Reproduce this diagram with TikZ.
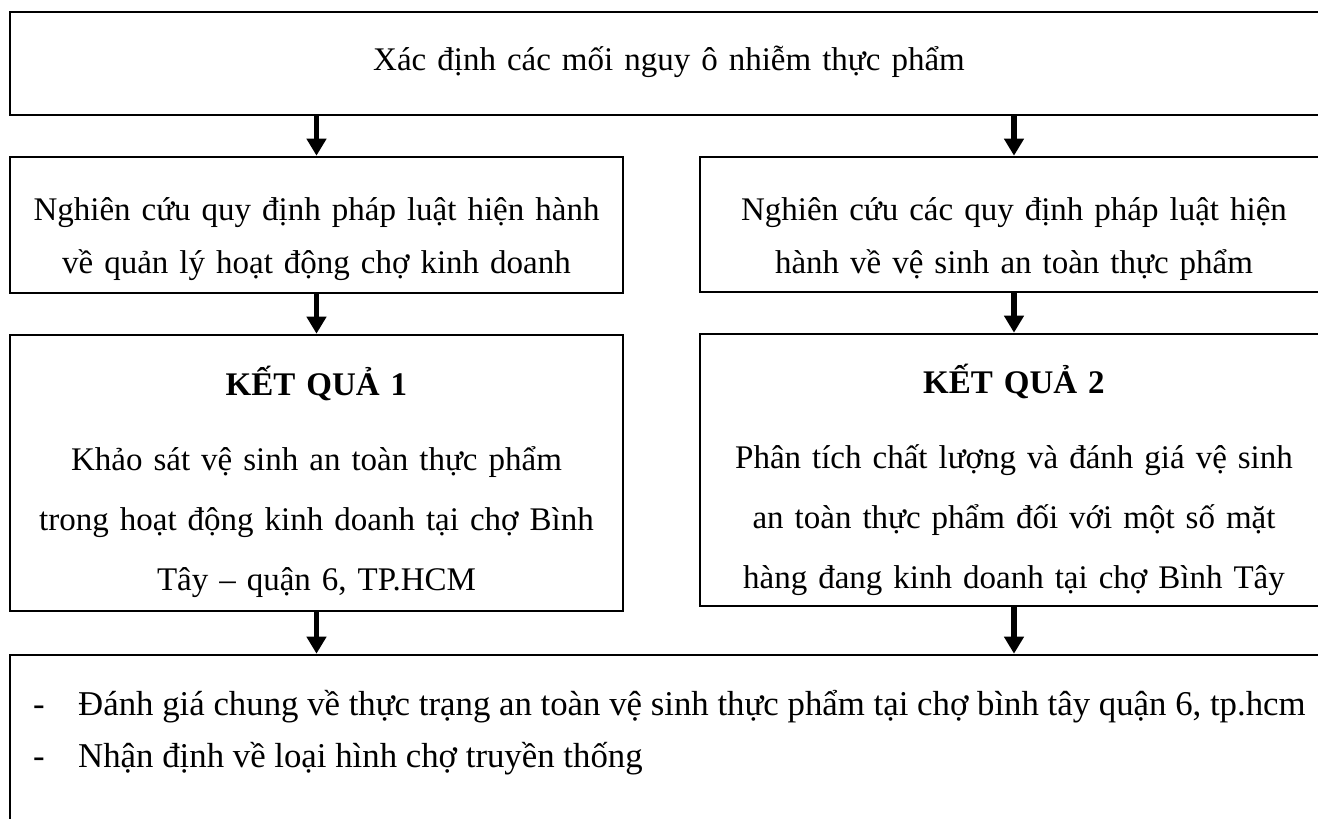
\documentclass[tikz,border=0pt]{standalone}
\usepackage{fontspec}
\setmainfont{Liberation Serif}
\usetikzlibrary{arrows.meta}
\begin{document}
\begin{tikzpicture}[x=1pt,y=-1pt,
  box/.style={draw, line width=2.6pt, inner sep=0pt},
  txt/.style={inner sep=0pt, anchor=base, align=center, text width=#1,
    font=\fontsize{33}{53}\selectfont},
  txt/.default=600pt,
  item/.style={inner sep=0pt, anchor=base west, font=\fontsize{34.8}{53}\selectfont},
  arr/.style={line width=5.5pt, -{Triangle[width=19pt,length=17pt]}}]
\useasboundingbox (0,0) rectangle (1318,819);
\clip (0,0) rectangle (1318,819);
% boxes
\node[box, minimum width=1318pt, minimum height=103pt] (top) at (669,63.5) {};
\node[box, minimum width=613pt, minimum height=136pt] (l2) at (316.5,225) {};
\node[box, minimum width=628pt, minimum height=135pt] (r2) at (1014,224.5) {};
\node[box, minimum width=613pt, minimum height=276pt] (l3) at (316.5,473) {};
\node[box, minimum width=628pt, minimum height=272pt] (r3) at (1014,470) {};
\node[box, minimum width=1318pt, minimum height=180pt] (bot) at (669,745) {};
% texts
\node[txt=1000pt] (ttop) at (669,70) {Xác định các mối nguy ô nhiễm thực phẩm};
\node[txt] (tl2) at (316.5,220) {Nghiên cứu quy định pháp luật hiện hành\\về quản lý hoạt động chợ kinh doanh};
\node[txt] (tr2) at (1014,220) {Nghiên cứu các quy định pháp luật hiện\\hành về vệ sinh an toàn thực phẩm};
\node[txt] (kq1) at (316.5,395) {\bfseries KẾT QUẢ 1};
\node[txt, font=\fontsize{33}{60}\selectfont] (tl3) at (316.5,470) {Khảo sát vệ sinh an toàn thực phẩm\\trong hoạt động kinh doanh tại chợ Bình\\Tây – quận 6, TP.HCM};
\node[txt] (kq2) at (1014,393) {\bfseries KẾT QUẢ 2};
\node[txt, font=\fontsize{33}{60}\selectfont] (tr3) at (1014,468) {Phân tích chất lượng và đánh giá vệ sinh\\an toàn thực phẩm đối với một số mặt\\hàng đang kinh doanh tại chợ Bình Tây};
\node[item] (d1) at (33,715) {-};
\node[item] (b1) at (78,715) {Đánh giá chung về thực trạng an toàn vệ sinh thực phẩm tại chợ bình tây quận 6, tp.hcm};
\node[item] (d2) at (33,767) {-};
\node[item] (b2) at (78,767) {Nhận định về loại hình chợ truyền thống};
% arrows
\draw[arr] (top.south -| l2.north) -- (l2.north);
\draw[arr] (top.south -| r2.north) -- (r2.north);
\draw[arr] (l2.south) -- (l3.north);
\draw[arr] (r2.south) -- (r3.north);
\draw[arr] (l3.south) -- (l3.south |- bot.north);
\draw[arr] (r3.south) -- (r3.south |- bot.north);
\end{tikzpicture}
\end{document}
